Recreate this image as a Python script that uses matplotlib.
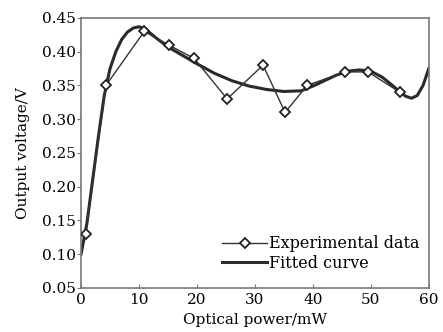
import numpy as np
import matplotlib.pyplot as plt

plt.rcParams['font.family'] = ['DejaVu Serif']

# experimental data
exp_power = [0.8, 4.3, 10.9, 15.1, 19.5, 25.2, 31.4, 35.2, 39.0, 45.5, 49.5, 55.0]
exp_voltage = [0.13, 0.35, 0.43, 0.41, 0.39, 0.33, 0.38, 0.31, 0.35, 0.37, 0.37, 0.34]

# fitted curve
fit_power = [0, 1, 2, 3, 4, 4.5, 5, 6, 7, 8, 9, 10, 11, 13, 15, 17, 20, 23, 26, 29,
             32, 35, 38, 40, 42, 44, 46, 48, 50, 52, 54, 55, 56, 57, 58, 59, 60]
fit_voltage = [0.10, 0.145, 0.21, 0.275, 0.335, 0.355, 0.375, 0.40, 0.418, 0.429, 0.435,
               0.437, 0.434, 0.42, 0.407, 0.397, 0.382, 0.368, 0.357, 0.349,
               0.344, 0.341, 0.342, 0.349, 0.357, 0.365, 0.371, 0.373, 0.371, 0.362,
               0.348, 0.340, 0.334, 0.331, 0.335, 0.350, 0.375]

xticks = [0, 10, 20, 30, 40, 50, 60]
yticks = [0.05, 0.10, 0.15, 0.20, 0.25, 0.30, 0.35, 0.40, 0.45]

fig = plt.figure(figsize=(4.43, 3.32), dpi=100)
ax = fig.add_axes([0.183, 0.133, 0.785, 0.813])

ax.plot(exp_power, exp_voltage, color='#333333', lw=1.0, marker='D', ms=5.5,
        mfc='white', mec='#222222', mew=1.3, label='Experimental data', zorder=3)
ax.plot(fit_power, fit_voltage, color='#2a2a2a', lw=2.2, label='Fitted curve', zorder=2)

ax.set_xlim(0, 60)
ax.set_ylim(0.05, 0.45)
ax.set_xticks(xticks)
ax.set_yticks(yticks)
ax.set_yticklabels(['%.2f' % v for v in yticks])
ax.tick_params(axis='x', direction='in', length=3, labelsize=11, pad=4, color='#777777')
ax.tick_params(axis='y', direction='out', length=3, labelsize=11, pad=1, color='#777777')
for s in ax.spines.values():
    s.set_color('#777777')
    s.set_linewidth(1.2)

ax.set_xlabel('Optical power/mW', fontsize=11, labelpad=4)
ax.set_ylabel('Output voltage/V', fontsize=11, labelpad=8)

leg = ax.legend(loc='lower right', frameon=False, fontsize=11.5, handlelength=2.8,
                handletextpad=0.1, labelspacing=0.15, borderaxespad=0.2,
                bbox_to_anchor=(1.0, 0.025))

fig.savefig('out.png', dpi=100)
